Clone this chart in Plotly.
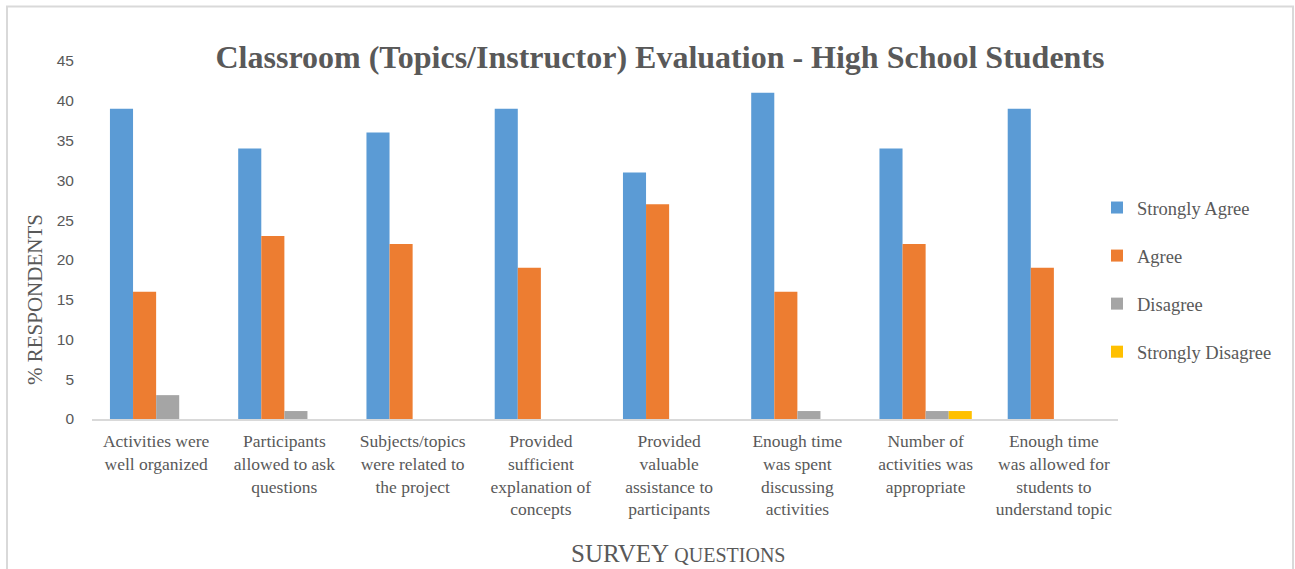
import plotly.graph_objects as go

categories = [
    "Activities were<br>well organized",
    "Participants<br>allowed to ask<br>questions",
    "Subjects/topics<br>were related to<br>the project",
    "Provided<br>sufficient<br>explanation of<br>concepts",
    "Provided<br>valuable<br>assistance to<br>participants",
    "Enough time<br>was spent<br>discussing<br>activities",
    "Number of<br>activities was<br>appropriate",
    "Enough time<br>was allowed for<br>students to<br>understand topic",
]
strongly_agree = [39, 34, 36, 39, 31, 41, 34, 39]
agree = [16, 23, 22, 19, 27, 16, 22, 19]
disagree = [3, 1, 0, 0, 0, 1, 1, 0]
strongly_disagree = [0, 0, 0, 0, 0, 0, 1, 0]
series_names = ["Strongly Agree", "Agree", "Disagree", "Strongly Disagree"]
colors = ["#5B9BD5", "#ED7D31", "#A5A5A5", "#FFC000"]
y_ticks = [0, 5, 10, 15, 20, 25, 30, 35, 40, 45]

fig = go.Figure()
for i, (name, vals) in enumerate(zip(series_names, [strongly_agree, agree, disagree, strongly_disagree])):
    fig.add_trace(go.Bar(x=categories, y=vals, name=name, marker_color=colors[i],
                         marker_line_width=0, legendgroup=name))

W, H = 1295, 569
L, T = 92, 61
R = W - 1118
B = H - 419
pw, ph = W - L - R, H - T - B


def px_x(x):
    return (x - L) / pw


def px_y(y):
    return (H - B - y) / ph


fig.update_layout(
    width=W, height=H,
    margin=dict(l=L, r=R, t=T, b=B, autoexpand=False),
    paper_bgcolor="white", plot_bgcolor="white",
    barmode="group", bargap=0.28, bargroupgap=0,
    font=dict(family="Liberation Serif", color="#595959"),
    title=dict(text="<b>Classroom (Topics/Instructor) Evaluation - High School Students</b>",
               x=660 / W, xanchor="center", y=1 - 57 / H, yanchor="middle",
               xref="container", yref="container",
               font=dict(family="Liberation Serif", size=32, color="#595959")),
    legend=dict(x=px_x(1097), xanchor="left", y=px_y(189), yanchor="top",
                font=dict(family="Liberation Serif", size=18.5, color="#595959"),
                tracegroupgap=21, itemwidth=30, bgcolor="rgba(0,0,0,0)"),
    showlegend=True,
    xaxis=dict(showline=True, linecolor="#D9D9D9", linewidth=2, ticks="", showgrid=False,
               tickfont=dict(family="Liberation Serif", size=17.5, color="#595959"), ticklabelstandoff=5),
    yaxis=dict(range=[0, 45], tickvals=y_ticks, showgrid=False, zeroline=False, showline=False,
               tickfont=dict(family="Liberation Sans", size=15.5, color="#595959"), ticklabelstandoff=17),
    annotations=[
        dict(text="SURVEY <span style='font-size:20px'>QUESTIONS</span>", x=px_x(678), y=px_y(553),
             xref="paper", yref="paper", showarrow=False, xanchor="center", yanchor="middle",
             font=dict(family="Liberation Serif", size=25, color="#595959")),
        dict(text="% RESPONDENTS", x=px_x(35), y=px_y(300), textangle=-90, showarrow=False,
             xref="paper", yref="paper", xanchor="center", yanchor="middle",
             font=dict(family="Liberation Serif", size=21, color="#595959")),
    ],
    shapes=[dict(type="rect", xref="paper", yref="paper", x0=px_x(7), x1=px_x(1293),
                 y0=px_y(590), y1=px_y(6.5), line=dict(color="#D9D9D9", width=2), layer="below")],
)
fig.write_html("out.html", config={"displayModeBar": False},
               post_script="document.body.style.margin='0';")
